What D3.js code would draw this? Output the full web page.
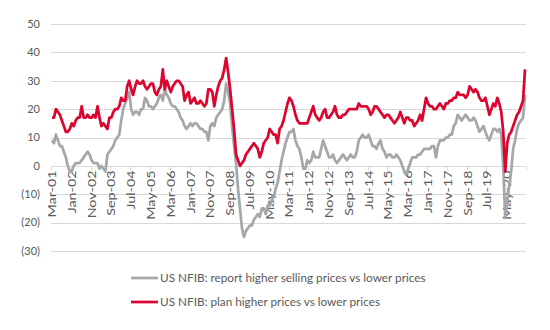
<!DOCTYPE html>
<html>
<head>
<meta charset="utf-8">
<script src="https://cdn.jsdelivr.net/npm/d3@7"></script>
<style>
  html, body { margin: 0; padding: 0; background: #ffffff; }
  svg { display: block; }
  text { font-family: Lato, "Open Sans", "Liberation Sans", sans-serif; }
</style>
</head>
<body>
<svg id="chart" width="550" height="330"></svg>
<script>
// ---- data ----
const startYear = 2001, startMonth = 2; // Mar-01
const reportHigherSelling = [
  9,8,11,9,7,7,5,3,0,-2,
  -2,0,1,1,1,2,3,4,5,4,2,1,
  1,1,-1,0,-1,-2,4,5,6,7,9,10,
  11,16,20,22,24,26,20,18,19,19,18,20,
  20,24,23,21,21,20,21,22,24,25,23,27,
  25,24,22,21,21,20,19,17,16,14,13,14,
  15,14,15,15,14,13,13,12,12,9,14,15,
  14,17,18,19,20,23,29,26,22,14,7,1,
  -8,-15,-22,-25,-23,-22,-21,-21,-19,-18,-17,-18,
  -15,-15,-17,-14,-14,-12,-11,-8,-6,-2,2,5,
  8,10,12,12,13,9,7,6,3,-1,-1,2,
  1,2,5,3,3,3,6,9,7,5,3,3,
  4,2,1,2,3,4,3,2,3,4,3,3,
  5,9,10,11,10,10,11,9,7,7,6,8,
  9,6,5,3,4,4,3,3,4,3,2,0,
  -2,-3,-1,1,3,3,3,4,4,5,6,6,
  6,6,7,7,3,7,9,9,9,10,10,11,
  11,14,15,18,17,16,17,18,17,16,16,17,
  16,14,12,13,14,12,10,9,11,13,13,12,
  13,11,0,-18,-13,-7,-2,6,9,13,15,16,
  17,25
];
const planHigherPrices = [
  17,17,20,19,18,16,14,12,12,13,
  15,14,16,17,17,21,17,17,18,17,17,18,
  17,21,17,14,15,14,13,17,17,19,20,20,
  21,24,23,23,28,30,27,25,28,30,29,29,
  30,28,27,28,29,29,26,25,27,28,34,27,
  30,28,26,28,29,30,30,29,28,23,25,26,
  22,23,24,22,22,23,22,21,22,27,27,26,
  21,25,28,30,31,34,38,33,27,20,13,4,
  2,0,1,2,4,5,6,7,8,7,6,3,
  5,8,9,10,13,12,11,11,8,13,14,16,
  19,22,24,23,21,18,16,15,15,15,15,15,
  17,19,21,18,17,16,17,19,20,17,17,18,
  19,21,18,17,17,18,18,19,20,20,20,20,
  20,22,21,21,21,21,20,18,19,21,21,20,
  19,18,17,18,18,17,16,15,16,17,19,17,
  15,17,17,16,16,14,15,16,18,16,20,24,
  22,21,21,20,20,21,22,21,20,22,22,23,
  23,24,24,26,25,25,25,24,25,28,27,26,
  27,26,24,23,23,24,21,18,20,22,21,24,
  22,19,12,-2,8,11,12,14,16,18,19,21,
  23,34
];
const seriesNames = [
  "US NFIB: report higher selling prices vs lower prices",
  "US NFIB: plan higher prices vs lower prices"
];
const yTickValues = [-30,-20,-10,0,10,20,30,40,50];
const yTickLabels = ["(30)","(20)","(10)","0","10","20","30","40","50"];
const xTickLabels = ["Mar-01","Jan-02","Nov-02","Sep-03","Jul-04","May-05","Mar-06","Jan-07",
  "Nov-07","Sep-08","Jul-09","May-10","Mar-11","Jan-12","Nov-12","Sep-13","Jul-14","May-15",
  "Mar-16","Jan-17","Nov-17","Sep-18","Jul-19","May-20"];

(function () {
// categories (months)
const monthNames = ["Jan","Feb","Mar","Apr","May","Jun","Jul","Aug","Sep","Oct","Nov","Dec"];
const categories = planHigherPrices.map((_, i) => {
  const m = (startMonth + i) % 12;
  const yr = startYear + Math.floor((startMonth + i) / 12);
  return monthNames[m] + "-" + String(yr % 100).padStart(2, "0");
});

// ---- layout ----
const svg = d3.select("#chart");
const mLeft = 51, mRight = 526, mTop = 24, mBottom = 251;

const x = d3.scaleBand().domain(categories).range([mLeft, mRight]).paddingInner(0).paddingOuter(0);
const y = d3.scaleLinear().domain([-30, 50]).range([mBottom, mTop]);
const cx = c => x(c) + x.bandwidth() / 2;

// gridlines
svg.append("g").selectAll("line").data(yTickValues).join("line")
  .attr("x1", mLeft).attr("x2", mRight)
  .attr("y1", d => Math.round(y(d)) + 0.5).attr("y2", d => Math.round(y(d)) + 0.5)
  .attr("stroke", "#d9d9d9").attr("stroke-width", 1);

// y labels
svg.append("g").selectAll("text").data(yTickValues).join("text")
  .attr("x", 40).attr("y", d => y(d))
  .attr("dy", "0.35em").attr("text-anchor", "end")
  .attr("font-size", 11).attr("fill", "#595959")
  .text((d, i) => yTickLabels[i]);

// x axis at zero with ticks every 10 categories
const y0 = Math.round(y(0)) + 0.5;
const tickIdx = d3.range(0, categories.length + 1, 10);
svg.append("g").selectAll("line").data(tickIdx).join("line")
  .attr("x1", i => Math.round(mLeft + i * x.bandwidth()) + 0.5)
  .attr("x2", i => Math.round(mLeft + i * x.bandwidth()) + 0.5)
  .attr("y1", y0).attr("y2", y0 + 4)
  .attr("stroke", "#d9d9d9");

const labelCats = categories.filter(c => xTickLabels.includes(c));
svg.append("g").selectAll("text").data(labelCats).join("text")
  .attr("transform", c => `translate(${cx(c) + 4},${y0 + 4}) rotate(-90) scale(1.3,1)`)
  .attr("text-anchor", "end")
  .attr("font-size", 11).attr("fill", "#595959")
  .text(c => c);

// lines
const colors = ["#a5a8aa", "#dc0530"];
const lineGen = d3.line().x((d, i) => cx(categories[i])).y(d => y(d));
[reportHigherSelling, planHigherPrices].forEach((s, k) => {
  svg.append("path").datum(s)
    .attr("fill", "none").attr("stroke", colors[k])
    .attr("stroke-width", 2.75).attr("stroke-linejoin", "round")
    .attr("d", lineGen);
});

// legend
const legY = [278, 302];
seriesNames.forEach((name, k) => {
  svg.append("line").attr("x1", 131).attr("x2", 158)
    .attr("y1", legY[k]).attr("y2", legY[k])
    .attr("stroke", colors[k]).attr("stroke-width", 2.75);
  svg.append("text").attr("x", 160).attr("y", legY[k]).attr("dy", "0.35em")
    .attr("font-size", 11.75).attr("fill", "#595959").text(name);
});
})();
</script>
</body>
</html>
